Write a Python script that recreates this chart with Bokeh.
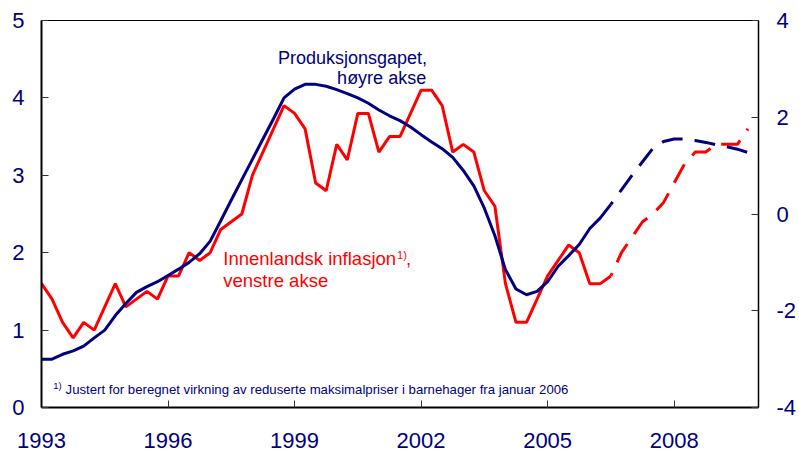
from bokeh.plotting import figure
from bokeh.models import Range1d, LinearAxis, FixedTicker, Label
from bokeh.embed import file_html
from bokeh.resources import INLINE

# Quarterly data, first quarter 1993 onwards
start_year = 1993
forecast_from = 2006.5

# Domestic inflation (left axis, percent)
inflation = [
    1.6, 1.4, 1.1, 0.9,
    1.1, 1.0, 1.3, 1.6,
    1.3, 1.4, 1.5, 1.4,
    1.7, 1.7, 2.0, 1.9,
    2.0, 2.3, 2.4, 2.5,
    3.0, 3.3, 3.6, 3.9,
    3.8, 3.6, 2.9, 2.8,
    3.4, 3.2, 3.8, 3.8,
    3.3, 3.5, 3.5, 3.8,
    4.1, 4.1, 3.9, 3.3,
    3.4, 3.3, 2.8, 2.6,
    1.6, 1.1, 1.1, 1.4,
    1.7, 1.9, 2.1, 2.0,
    1.6, 1.6, 1.7, 2.0,
    2.2, 2.4, 2.5, 2.65,
    2.9, 3.15, 3.3, 3.3,
    3.4, 3.4, 3.4, 3.6,
]

# Output gap (right axis, percent)
output_gap = [
    -3.0, -3.0, -2.9, -2.83,
    -2.73, -2.56, -2.4, -2.1,
    -1.85, -1.62, -1.5, -1.4,
    -1.27, -1.14, -1.0, -0.82,
    -0.56, -0.14, 0.29, 0.71,
    1.13, 1.55, 1.97, 2.4,
    2.58, 2.68, 2.68, 2.64,
    2.57, 2.49, 2.4, 2.29,
    2.15, 2.03, 1.93, 1.8,
    1.64, 1.49, 1.35, 1.17,
    0.9, 0.58, 0.12, -0.45,
    -1.15, -1.55, -1.67, -1.6,
    -1.4, -1.08, -0.86, -0.63,
    -0.3, -0.08, 0.2, 0.5,
    0.8, 1.08, 1.36, 1.5,
    1.55, 1.55, 1.52, 1.48,
    1.43, 1.39, 1.34, 1.27,
]

x_ticks = [1993, 1996, 1999, 2002, 2005, 2008]
left_ticks = [0, 1, 2, 3, 4, 5]
right_ticks = [-4, -2, 0, 2, 4]
right_tick_labels = {t: str(t) for t in right_ticks}

dates = [start_year + q / 4 for q in range(len(inflation))]
split = dates.index(forecast_from)

NAVY = "#000080"
RED = "#ff0000"
FONT = "Liberation Sans"

p = figure(width=799, height=457, x_range=Range1d(1993, 2010), y_range=Range1d(0, 5),
           output_backend="svg", toolbar_location=None,
           min_border_left=41, min_border_right=41, min_border_top=20, min_border_bottom=50)
p.extra_y_ranges = {"gap": Range1d(-4, 4)}
p.xgrid.visible = False
p.ygrid.visible = False
p.outline_line_color = "black"
p.outline_line_width = 1
p.background_fill_color = "white"
p.border_fill_color = "white"

ra = LinearAxis(y_range_name="gap")
p.add_layout(ra, "right")

p.xaxis.ticker = FixedTicker(ticks=x_ticks)
p.yaxis[0].ticker = FixedTicker(ticks=left_ticks)
ra.ticker = FixedTicker(ticks=right_ticks)
ra.major_label_overrides = right_tick_labels

for ax in [p.xaxis[0], p.yaxis[0], ra]:
    ax.axis_line_color = "black"
    ax.axis_line_width = 2
    ax.major_tick_in = 7
    ax.major_tick_out = 0
    ax.major_tick_line_color = "#333333"
    ax.major_tick_line_width = 1
    ax.minor_tick_line_color = None
    ax.major_label_text_font = FONT
    ax.major_label_text_font_size = "22px"
    ax.major_label_text_color = NAVY
ra.axis_line_width = 1.5
p.xaxis[0].major_label_standoff = 25
p.yaxis[0].major_label_standoff = 17
ra.major_label_standoff = 18

# Lines: history solid, projections dashed
p.line(dates[:split + 1], inflation[:split + 1], line_color=RED, line_width=3)
p.line(dates[split:], inflation[split:], line_color=RED, line_width=3,
       line_dash="21 12", line_dash_offset=18)
p.line(dates[:split + 1], output_gap[:split + 1], line_color=NAVY, line_width=3,
       y_range_name="gap")
p.line(dates[split:], output_gap[split:], line_color=NAVY, line_width=3,
       line_dash="21 12", line_dash_offset=18, y_range_name="gap")

def add_label(x, y, text, color, size, align="left"):
    p.add_layout(Label(x=x, y=y, text=text, text_color=color, text_font=FONT,
                       text_font_size=size, text_align=align,
                       text_baseline="alphabetic"))

add_label(2002.14, 4.52, "Produksjonsgapet,", NAVY, "18px", "right")
add_label(2002.12, 4.26, "høyre akse", NAVY, "18px", "right")
add_label(1997.31, 1.92, "Innenlandsk inflasjon", RED, "18.5px")
add_label(2001.43, 1.97, "1)", RED, "11px")
add_label(2001.64, 1.92, ",", RED, "18.5px")
add_label(1997.31, 1.64, "venstre akse", RED, "18.5px")
add_label(1993.28, 0.284, "1)", NAVY, "9.5px")
add_label(1993.57, 0.232,
          "Justert for beregnet virkning av reduserte maksimalpriser i barnehager fra januar 2006",
          NAVY, "13.2px")

open("out.html", "w").write(file_html(p, INLINE))
